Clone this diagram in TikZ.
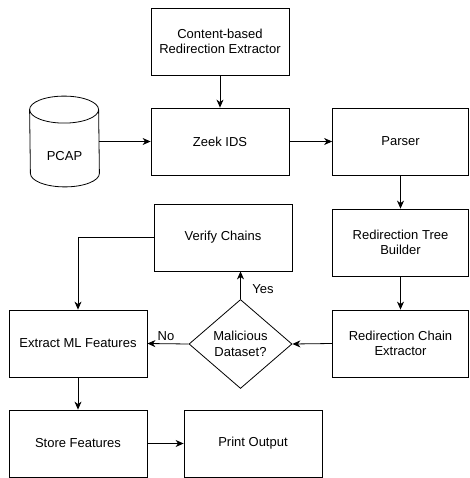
\documentclass[tikz,border=0pt]{standalone}
\usepackage{fontspec}
\setmainfont{Liberation Sans}
\usetikzlibrary{arrows.meta,shapes.geometric,calc}
\begin{document}
\begin{tikzpicture}[x=1pt,y=-1pt,
  font=\fontsize{13}{15.5}\selectfont,
  line width=0.8pt,
  box/.style={draw,minimum width=138pt,minimum height=67pt,align=center,inner sep=0pt},
  arr/.style={-{Stealth[length=8pt,width=7pt,inset=2.5pt]}},
  lbl/.style={inner sep=1pt}]
\useasboundingbox (0,0) rectangle (469,478);
\node[box] (cbre) at (220,41.5) {Content-based\\Redirection Extractor};
\node[box] (zeek) at (220,141.5) {Zeek IDS};
\node[box,minimum width=136pt] (parser) at (400.5,141.5) {Parser};
\node[box,minimum width=136pt] (tree) at (400.5,242.5) {Redirection Tree\\Builder};
\node[box,minimum width=136pt] (chain) at (400.5,343.5) {Redirection Chain\\Extractor};
\node[draw,diamond,minimum width=103pt,minimum height=89pt,inner sep=0pt,align=center] (mal) at (240.5,344) {Malicious\\Dataset?};
\node[box] (verify) at (223,237.5) {Verify Chains};
\node[box] (ml) at (78,343.5) {Extract ML Features};
\node[box] (store) at (78,443.5) {Store Features};
\node[box] (print) at (253,443.5) {Print Output};
% PCAP cylinder
\node[minimum width=69pt,minimum height=90pt,inner sep=0pt] (pcap) at (64.5,141.5) {};
\draw ($(pcap.north west)+(0,13.5)$) arc[start angle=180,end angle=0,x radius=34.5,y radius=-13.5]
  -- ($(pcap.south east)+(0,-13.5)$) arc[start angle=0,end angle=-180,x radius=34.5,y radius=-13.5] -- cycle;
\draw ($(pcap.north west)+(0,13.5)$) arc[start angle=180,end angle=360,x radius=34.5,y radius=-13.5];
\node (pcaptxt) at (64.5,156) {PCAP};
% connectors
\draw[arr] (cbre) -- (zeek);
\draw[arr] (pcap.east) -- (zeek.west);
\draw[arr] (zeek) -- (parser);
\draw[arr] (parser) -- (tree);
\draw[arr] (tree) -- (chain);
\draw[arr] (chain.west) -- (mal.east);
\draw[arr] (mal.west) -- node[lbl,above,pos=0.55,yshift=2pt] {No} (ml.east);
\draw[arr] (mal.north) -- (mal.north |- verify.south);
\node[lbl] (yes) at (263,289) {Yes};
\draw[arr] (verify.west) -| (ml.north);
\draw[arr] (ml) -- (store);
\draw[arr] (store) -- (print);
\end{tikzpicture}
\end{document}
